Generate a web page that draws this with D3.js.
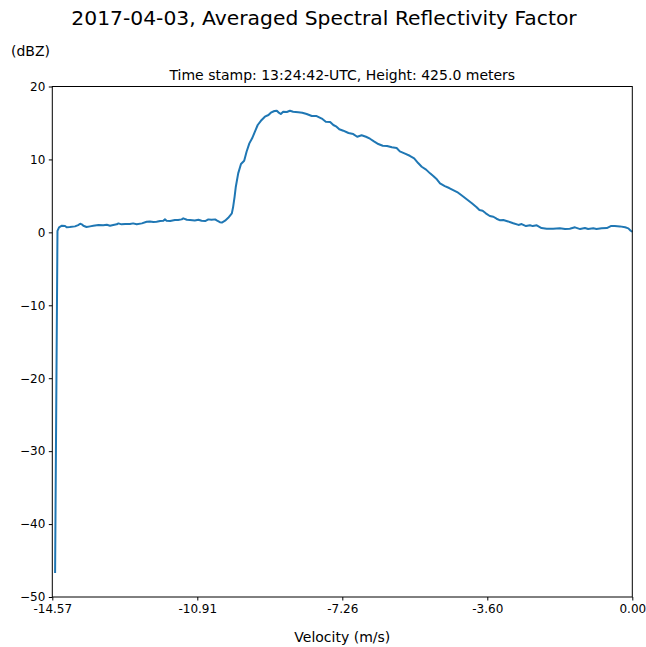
<!DOCTYPE html>
<html>
<head>
<meta charset="utf-8">
<script src="https://cdn.jsdelivr.net/npm/d3@7"></script>
<style>
  body { margin: 0; background: #fff; }
  text { font-family: "DejaVu Sans", sans-serif; }
</style>
</head>
<body>
<div id="chart"></div>
<script>
// velocity (m/s) and averaged reflectivity (dBZ)
const velocity = [
  -14.50, -14.44, -14.40, -14.33, -14.25, -14.21, -14.13, -14.00, -13.92, -13.87,
  -13.83, -13.79, -13.71, -13.62, -13.54, -13.41, -13.29, -13.20, -13.12, -13.04,
  -12.95, -12.91, -12.83, -12.74, -12.62, -12.54, -12.45, -12.32, -12.20, -12.12,
  -12.03, -11.95, -11.86, -11.78, -11.74, -11.70, -11.61, -11.49, -11.41, -11.32,
  -11.28, -11.19, -11.11, -10.99, -10.90, -10.82, -10.73, -10.65, -10.57, -10.48,
  -10.44, -10.36, -10.31, -10.23, -10.15, -10.06, -10.03, -9.99, -9.96, -9.90,
  -9.83, -9.75, -9.69, -9.62, -9.55, -9.48, -9.41, -9.33, -9.23, -9.14,
  -9.08, -8.99, -8.93, -8.89, -8.83, -8.77, -8.68, -8.60, -8.52, -8.39,
  -8.29, -8.18, -8.05, -7.93, -7.80, -7.70, -7.59, -7.51, -7.43, -7.36,
  -7.26, -7.13, -7.01, -6.91, -6.80, -6.69, -6.59, -6.49, -6.38, -6.27,
  -6.16, -6.04, -5.92, -5.84, -5.71, -5.59, -5.48, -5.38, -5.29, -5.18,
  -5.08, -5.00, -4.91, -4.83, -4.71, -4.60, -4.50, -4.40, -4.29, -4.16,
  -4.03, -3.91, -3.84, -3.76, -3.68, -3.58, -3.49, -3.41, -3.32, -3.24,
  -3.12, -2.99, -2.86, -2.78, -2.67, -2.57, -2.50, -2.40, -2.28, -2.15,
  -1.99, -1.82, -1.69, -1.57, -1.44, -1.31, -1.19, -1.11, -0.98, -0.90,
  -0.77, -0.64, -0.54, -0.44, -0.31, -0.18, -0.10, -0.04, 0.00
];
const reflectivity = [
  -46.7, 0.2, 0.69, 0.91, 0.86, 0.69, 0.73, 0.82, 1.0, 1.18,
  1.1, 0.91, 0.73, 0.82, 0.91, 1.0, 0.96, 1.04, 0.91, 1.0,
  1.1, 1.23, 1.1, 1.14, 1.14, 1.23, 1.1, 1.23, 1.45, 1.5,
  1.41, 1.45, 1.55, 1.59, 1.78, 1.59, 1.55, 1.69, 1.69, 1.78,
  1.92, 1.73, 1.69, 1.64, 1.73, 1.59, 1.55, 1.78, 1.73, 1.78,
  1.64, 1.40, 1.35, 1.6, 2.0, 2.6, 3.4, 4.9, 6.26, 8.09,
  9.37, 9.82, 11.06, 12.2, 12.9, 13.8, 14.72, 15.3, 15.86, 16.09,
  16.41, 16.64, 16.68, 16.46, 16.23, 16.54, 16.5, 16.68, 16.54, 16.46,
  16.41, 16.23, 15.95, 15.95, 15.6, 15.17, 15.13, 14.72, 14.49, 14.13,
  13.94, 13.62, 13.48, 13.11, 13.31, 13.11, 12.84, 12.48, 12.11, 11.88,
  11.84, 11.66, 11.56, 11.1, 10.8, 10.5, 10.15, 9.5, 9.0, 8.6,
  8.09, 7.72, 7.27, 6.72, 6.35, 6.08, 5.80, 5.53, 5.08, 4.53,
  3.98, 3.43, 3.06, 2.96, 2.61, 2.24, 2.14, 1.87, 1.65, 1.69,
  1.5, 1.25, 1.02, 1.14, 0.86, 0.98, 0.86, 0.96, 0.59, 0.49,
  0.49, 0.55, 0.45, 0.49, 0.69, 0.45, 0.59, 0.45, 0.55, 0.45,
  0.55, 0.59, 0.86, 0.86, 0.82, 0.69, 0.55, 0.22, 0.08
];
const xTickLabels = ["-14.57", "-10.91", "-7.26", "-3.60", "0.00"];
const yTicks = [-50, -40, -30, -20, -10, 0, 10, 20];

const width = 646, height = 647;
const margin = {top: 86.5, right: 13.7, bottom: 50, left: 52.3};

const svg = d3.select("#chart").append("svg")
  .attr("width", width)
  .attr("height", height);

const x = d3.scaleLinear()
  .domain([-14.57, 0])
  .range([margin.left, width - margin.right]);

const y = d3.scaleLinear()
  .domain([-50, 20])
  .range([height - margin.bottom, margin.top]);

// ticks sit evenly across the axis, labels come from the list
const xTickPos = d3.range(xTickLabels.length)
  .map(i => x.domain()[0] + i * (x.domain()[1] - x.domain()[0]) / (xTickLabels.length - 1));

const line = d3.line()
  .x((d, i) => x(velocity[i]))
  .y(d => y(d));

svg.append("path")
  .datum(reflectivity)
  .attr("d", line)
  .attr("fill", "none")
  .attr("stroke", "#1f77b4")
  .attr("stroke-width", 2)
  .attr("stroke-linejoin", "round");

const xAxis = svg.append("g")
  .attr("transform", `translate(0,${height - margin.bottom})`)
  .call(d3.axisBottom(x)
    .tickValues(xTickPos)
    .tickFormat((d, i) => xTickLabels[i])
    .tickSize(3.5)
    .tickPadding(3.5));

const yAxis = svg.append("g")
  .attr("transform", `translate(${margin.left},0)`)
  .call(d3.axisLeft(y)
    .tickValues(yTicks)
    .tickFormat(d => d < 0 ? "\u2212" + Math.abs(d) : d)
    .tickSize(3.5)
    .tickPadding(3.5));

[xAxis, yAxis].forEach(g => {
  g.select(".domain").remove();
  g.selectAll("line").attr("stroke", "#000").attr("stroke-width", 1);
  g.selectAll("text").style("font-size", "12px").attr("fill", "#000");
});

// frame
svg.append("rect")
  .attr("x", margin.left)
  .attr("y", margin.top)
  .attr("width", width - margin.left - margin.right)
  .attr("height", height - margin.top - margin.bottom)
  .attr("fill", "none")
  .attr("stroke", "#000")
  .attr("stroke-width", 1);

const cx = (margin.left + width - margin.right) / 2;

svg.append("text")
  .attr("x", width / 2 + 1)
  .attr("y", 25)
  .attr("text-anchor", "middle")
  .style("font-size", "20.3px")
  .text("2017-04-03, Averaged Spectral Reflectivity Factor");

svg.append("text")
  .attr("x", cx)
  .attr("y", 80)
  .attr("text-anchor", "middle")
  .style("font-size", "14px")
  .text("Time stamp: 13:24:42-UTC, Height: 425.0 meters");

svg.append("text")
  .attr("x", 11)
  .attr("y", 56)
  .style("font-size", "14px")
  .text("(dBZ)");

svg.append("text")
  .attr("x", cx)
  .attr("y", 642)
  .attr("text-anchor", "middle")
  .style("font-size", "14px")
  .text("Velocity (m/s)");
</script>
</body>
</html>
